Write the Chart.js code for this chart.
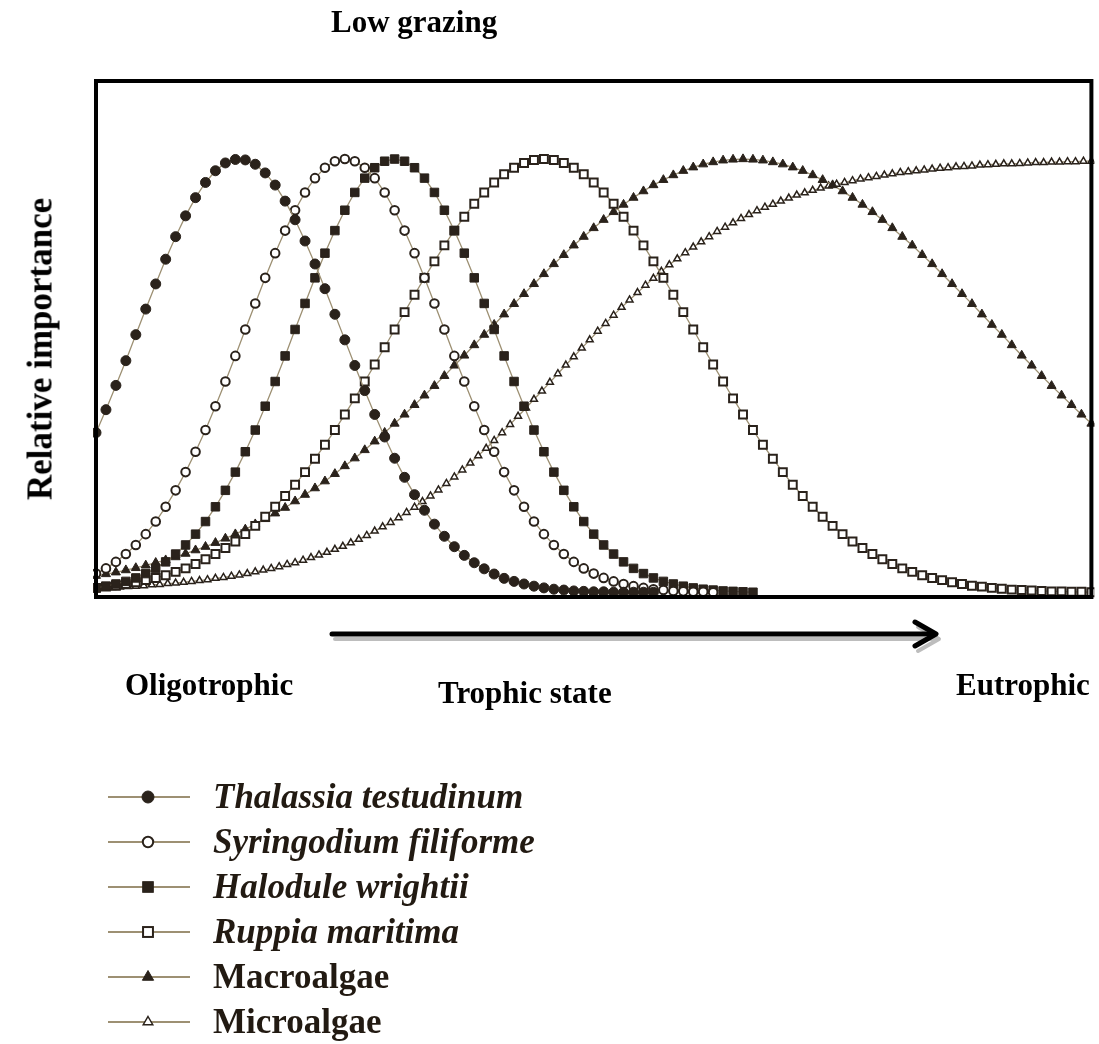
<!DOCTYPE html>
<html>
<head>
<meta charset="utf-8">
<script src="https://cdn.jsdelivr.net/npm/chart.js@4.4.1/dist/chart.umd.min.js"></script>
<style>
  html,body{margin:0;padding:0;background:#fff;}
  #wrap{position:relative;width:1099px;height:1044px;overflow:hidden;font-family:"Liberation Serif","Times New Roman",serif;}
  #c{position:absolute;left:0;top:0;}
  .lbl{position:absolute;font-weight:bold;color:#000;white-space:nowrap;line-height:1;}
  #legend{position:absolute;left:108px;top:774px;}
  .row{display:flex;align-items:center;height:45px;}
  .row svg{flex:none;}
  .row span{margin-left:23px;font-size:35px;font-weight:bold;color:#221a12;line-height:1;white-space:nowrap;}
  .row span.it{font-style:italic;}
</style>
</head>
<body>
<div id="wrap">
  <canvas id="c" width="1099" height="1044"></canvas>
  <div class="lbl" id="tTop" style="left:331px;top:6px;font-size:31px;">Low grazing</div>
  <div class="lbl" id="tY" style="left:40px;top:349px;font-size:35px;transform:translate(-50%,-50%) rotate(-90deg);">Relative importance</div>
  <div class="lbl" style="left:125px;top:669px;font-size:31px;">Oligotrophic</div>
  <div class="lbl" style="left:438px;top:677px;font-size:31px;">Trophic state</div>
  <div class="lbl" style="left:956px;top:669px;font-size:31px;">Eutrophic</div>
  <div id="legend"></div>
</div>
<script>
// ---- Data ----
const seriesNames = ["Thalassia testudinum","Syringodium filiforme","Halodule wrightii","Ruppia maritima","Macroalgae","Microalgae"];
const italicNames = [true,true,true,true,false,false];

// trophic-state positions (0 = oligotrophic, 100 = eutrophic)
const trophicPos = Array.from({length:101},(_,i)=>i);
const microPos = Array.from({length:126},(_,i)=>Math.round(i*8)/10);

const thalassia = [0.369,0.422,0.478,0.535,0.595,0.654,0.712,0.769,0.821,0.869,
0.911,0.946,0.973,0.991,0.999,0.998,0.988,0.968,0.940,0.903,
0.860,0.811,0.758,0.701,0.642,0.583,0.524,0.466,0.411,0.359,
0.310,0.266,0.226,0.190,0.158,0.130,0.106,0.086,0.069,0.055,
0.043,0.033,0.026,0.020,0.015,0.011,0.008,0.006,0.004,0.003,
0.002,0.002,0.001,0.001,0.001,0.001,0.001];

const syringodium = [0.044,0.056,0.071,0.089,0.110,0.135,0.164,0.198,0.236,0.278,
0.325,0.375,0.430,0.487,0.546,0.607,0.667,0.726,0.783,0.835,
0.882,0.923,0.956,0.980,0.995,1.000,0.995,0.980,0.956,0.923,
0.882,0.835,0.783,0.726,0.667,0.607,0.546,0.487,0.430,0.375,
0.325,0.278,0.236,0.198,0.164,0.135,0.110,0.089,0.071,0.056,
0.044,0.034,0.026,0.020,0.015,0.011,0.008,0.006,0.004,0.003,
0.002,0.002,0.001];

const halodule = [0.011,0.015,0.020,0.026,0.034,0.044,0.056,0.071,0.089,0.110,
0.135,0.164,0.198,0.236,0.278,0.325,0.375,0.430,0.487,0.546,
0.607,0.667,0.726,0.783,0.835,0.882,0.923,0.956,0.980,0.995,
1.000,0.995,0.980,0.956,0.923,0.882,0.835,0.783,0.726,0.667,
0.607,0.546,0.487,0.430,0.375,0.325,0.278,0.236,0.198,0.164,
0.135,0.110,0.089,0.071,0.056,0.044,0.034,0.026,0.020,0.015,
0.011,0.008,0.006,0.004,0.003,0.002,0.001];

const ruppia = [0.011,0.014,0.016,0.020,0.024,0.029,0.034,0.040,0.048,0.056,
0.066,0.077,0.089,0.103,0.118,0.135,0.154,0.175,0.198,0.223,
0.249,0.278,0.309,0.341,0.375,0.411,0.448,0.487,0.526,0.566,
0.607,0.647,0.687,0.726,0.764,0.801,0.835,0.867,0.897,0.923,
0.946,0.965,0.980,0.991,0.998,1.000,
0.998,0.991,0.980,0.965,0.946,0.923,0.897,0.867,0.835,0.801,
0.764,0.726,0.687,0.647,0.607,0.566,0.526,0.487,0.448,0.411,
0.375,0.341,0.309,0.278,0.249,0.223,0.198,0.175,0.154,0.135,
0.118,0.103,0.089,0.077,0.066,0.056,0.048,0.040,0.034,0.029,
0.024,0.020,0.016,0.014,0.011,0.009,0.007,0.006,0.005,0.004,
0.003,0.003,0.002,0.002,0.001];

const macroalgae = [0.039,0.043,0.047,0.052,0.057,0.063,0.069,0.075,0.082,0.090,
0.098,0.106,0.115,0.125,0.135,0.146,0.158,0.170,0.183,0.196,
0.211,0.226,0.241,0.257,0.274,0.292,0.310,0.329,0.349,0.369,
0.390,0.411,0.433,0.455,0.477,0.500,0.524,0.547,0.571,0.595,
0.618,0.642,0.666,0.689,0.712,0.735,0.758,0.779,0.801,0.821,
0.841,0.860,0.878,0.895,0.911,0.926,0.940,0.952,0.963,0.973,
0.981,0.988,0.993,0.997,0.999,1.000,
0.999,0.997,0.993,0.988,0.981,0.973,0.963,0.952,0.940,0.926,
0.911,0.895,0.878,0.860,0.841,0.821,0.801,0.779,0.758,0.735,
0.712,0.689,0.666,0.642,0.618,0.595,0.571,0.547,0.524,0.500,
0.477,0.455,0.433,0.411,0.390];

const microalgae = [0.010,0.011,0.012,0.013,0.014,0.015,0.016,0.018,0.019,0.021,
0.022,0.024,0.026,0.028,0.030,0.033,0.035,0.038,0.041,0.044,
0.048,0.052,0.056,0.060,0.065,0.069,0.075,0.081,0.087,0.093,
0.100,0.107,0.115,0.123,0.132,0.142,0.152,0.162,0.173,0.185,
0.197,0.210,0.223,0.237,0.252,0.267,0.283,0.299,0.316,0.333,
0.351,0.369,0.388,0.407,0.426,0.446,0.465,0.485,0.505,0.525,
0.544,0.564,0.583,0.603,0.621,0.640,0.658,0.675,0.692,0.709,
0.725,0.741,0.756,0.770,0.784,0.797,0.809,0.821,0.833,0.843,
0.853,0.863,0.872,0.881,0.889,0.896,0.903,0.910,0.917,0.922,
0.928,0.933,0.938,0.942,0.946,0.950,0.954,0.957,0.960,0.963,
0.966,0.969,0.971,0.973,0.975,0.977,0.979,0.980,0.982,0.983,
0.984,0.986,0.987,0.988,0.989,0.989,0.990,0.991,0.992,0.992,
0.993,0.993,0.994,0.994,0.995,0.995];

// ---- Styles ----
const INK = '#2a221b';
const LINE = '#9d9073';
const styles = [
  {pointStyle:'circle',   radius:5,   fill:INK,    bw:1,   lr:6},
  {pointStyle:'circle',   radius:4.3, fill:'#fff', bw:2,   lr:5.2},
  {pointStyle:'rect',     radius:6,   fill:INK,    bw:1,   lr:7.5},
  {pointStyle:'rect',     radius:5.6, fill:'#fff', bw:2,   lr:7},
  {pointStyle:'triangle', radius:5.2, fill:INK,    bw:1,   lr:6.5},
  {pointStyle:'triangle', radius:4,   fill:'#fff', bw:1.5, lr:5.5}
];

function pts(xs, ys){ return ys.map((v,i)=>({x:xs[i], y:v})); }
const seriesData = [
  pts(trophicPos, thalassia),
  pts(trophicPos, syringodium),
  pts(trophicPos, halodule),
  pts(trophicPos, ruppia),
  pts(trophicPos, macroalgae),
  pts(microPos, microalgae)
];

const datasets = seriesNames.map((n,i)=>({
  label:n,
  data:seriesData[i],
  borderColor:LINE,
  borderWidth:1.3,
  tension:0,
  fill:false,
  pointStyle:styles[i].pointStyle,
  pointRadius:styles[i].radius,
  pointBackgroundColor:styles[i].fill,
  pointBorderColor:INK,
  pointBorderWidth:styles[i].bw,
  clip:3
}));

const decorPlugin = {
  id:'decor',
  afterDraw(chart){
    const {ctx, chartArea:{left,top,right,bottom}} = chart;
    ctx.save();
    // frame
    ctx.strokeStyle='#000';
    ctx.lineWidth=4;
    ctx.strokeRect(left, top, right-left, bottom-top);
    // arrow shadow
    ctx.lineCap='round'; ctx.lineJoin='round';
    ctx.strokeStyle='#bdbdbd';
    ctx.lineWidth=4;
    ctx.beginPath(); ctx.moveTo(335,639); ctx.lineTo(934,639); ctx.stroke();
    ctx.beginPath(); ctx.moveTo(918,627); ctx.lineTo(939,639); ctx.lineTo(918,651); ctx.stroke();
    // arrow
    ctx.strokeStyle='#000';
    ctx.lineWidth=5;
    ctx.beginPath(); ctx.moveTo(332,634); ctx.lineTo(933,634); ctx.stroke();
    ctx.beginPath(); ctx.moveTo(915,622); ctx.lineTo(936,634); ctx.lineTo(915,646); ctx.stroke();
    ctx.restore();
  }
};

new Chart(document.getElementById('c'), {
  type:'line',
  data:{datasets},
  options:{
    responsive:false,
    animation:false,
    events:[],
    layout:{padding:{left:96,top:81,right:2,bottom:447}},
    plugins:{legend:{display:false}, tooltip:{enabled:false}},
    scales:{
      x:{type:'linear',min:0,max:100,display:false},
      y:{min:-0.01,max:1.18,display:false}
    }
  },
  plugins:[decorPlugin]
});

// ---- Legend (HTML text, SVG markers) ----
function markerSVG(i){
  const s = styles[i], cx=40, cy=12;
  let m='';
  const f = s.fill, sw = s.bw, r = s.lr;
  if(s.pointStyle==='circle') m=`<circle cx="${cx}" cy="${cy}" r="${r}" fill="${f}" stroke="${INK}" stroke-width="${sw}"/>`;
  else if(s.pointStyle==='rect'){ const h=r*0.707; m=`<rect x="${cx-h}" y="${cy-h}" width="${2*h}" height="${2*h}" fill="${f}" stroke="${INK}" stroke-width="${sw}"/>`; }
  else { m=`<polygon points="${cx},${cy-r} ${cx+r*0.866},${cy+r*0.5} ${cx-r*0.866},${cy+r*0.5}" fill="${f}" stroke="${INK}" stroke-width="${sw}"/>`; }
  return `<svg width="82" height="24" viewBox="0 0 82 24"><line x1="0" y1="${cy}" x2="82" y2="${cy}" stroke="${LINE}" stroke-width="2"/>${m}</svg>`;
}
const leg = document.getElementById('legend');
seriesNames.forEach((n,i)=>{
  const r=document.createElement('div'); r.className='row';
  r.innerHTML = markerSVG(i) + `<span class="${italicNames[i]?'it':''}">${n}</span>`;
  leg.appendChild(r);
});
</script>
</body>
</html>
